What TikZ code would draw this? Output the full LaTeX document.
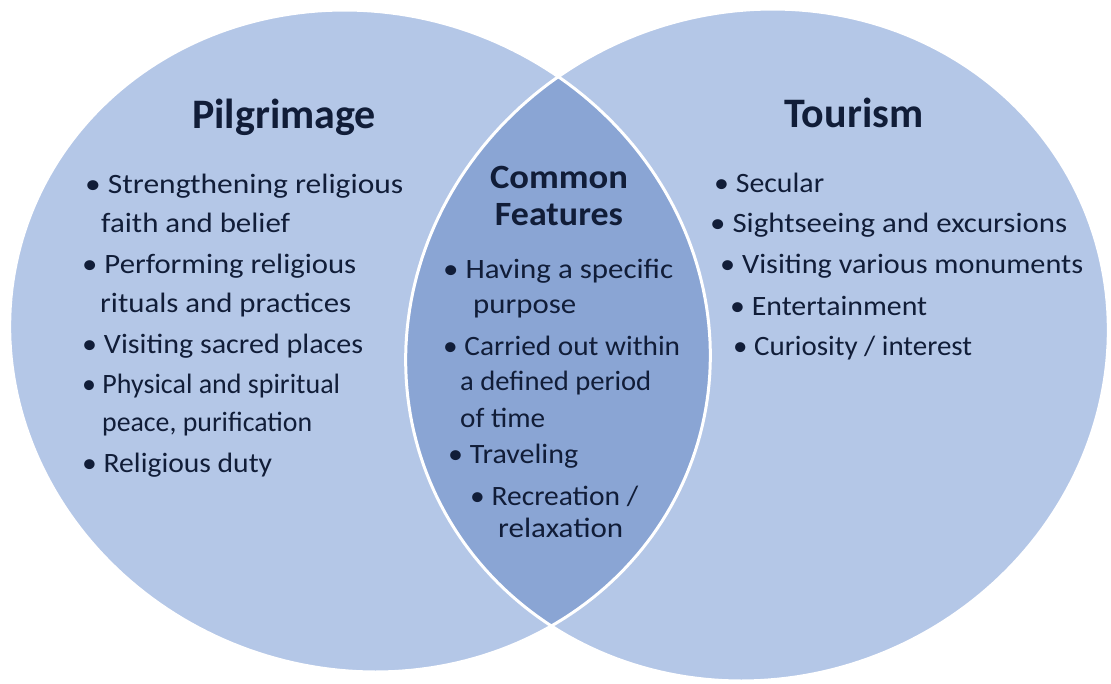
\documentclass[tikz,border=0pt]{standalone}
\usepackage{fontspec}
\usepackage{graphicx}
\setmainfont{Carlito}
\definecolor{outerblue}{HTML}{B4C7E7}
\definecolor{lensblue}{HTML}{8AA5D4}
\definecolor{ink}{HTML}{111D38}
\newcommand\bodyfnt{\fontsize{28}{34}\selectfont}
\newcommand\titlefnt{\fontsize{42}{50}\selectfont\bfseries}
\newcommand\midfnt{\fontsize{34}{40}\selectfont\bfseries}
\newcommand\fitw[2]{\resizebox{#1pt}{\height}{#2}}
\tikzset{
  txt/.style={anchor=base west, inner sep=0pt, font=\bodyfnt, text=ink},
  ttl/.style={anchor=base, inner sep=0pt, font=\titlefnt, text=ink},
  mid/.style={anchor=base, inner sep=0pt, font=\midfnt, text=ink},
}
\def\leftshape{plot[domain=0:360,samples=241] ({360+350*cos(\x)+0.0468*331*sin(\x)},{341+331*sin(\x)}) -- cycle}
\def\rightshape{plot[domain=0:360,samples=241] ({757+351*cos(\x)-0.0468*336*sin(\x)},{345+336*sin(\x)}) -- cycle}
\begin{document}
\begin{tikzpicture}[x=1pt,y=-1pt]
\useasboundingbox (0,0) rectangle (1111,683);
\fill[white] (0,0) rectangle (1111,683);
\fill[outerblue] \leftshape;
\fill[outerblue] \rightshape;
\begin{scope}
  \clip \leftshape;
  \fill[lensblue] \rightshape;
\end{scope}
\draw[white, line width=3pt] \leftshape;
\draw[white, line width=3pt] \rightshape;

% titles
\node[ttl] (pil) at (284,128) {Pilgrimage};
\node[ttl] (tou) at (854,127) {Tourism};
\node[mid] (com) at (559,188) {\fitw{138}{Common}};
\node[mid] (fea) at (559,225) {\fitw{128}{Features}};

% left list
\node[txt] (l1)  at (85,193)  {\fitw{318}{• Strengthening religious}};
\node[txt] (l1b) at (101,232) {\fitw{189}{faith and belief}};
\node[txt] (l2)  at (82,273)  {\fitw{274}{• Performing religious}};
\node[txt] (l2b) at (100,312) {\fitw{251}{rituals and practices}};
\node[txt] (l3)  at (82,353)  {\fitw{281}{• Visiting sacred places}};
\node[txt] (l4)  at (82,393)  {\fitw{258}{• Physical and spiritual}};
\node[txt] (l4b) at (102,431) {\fitw{210}{peace, purification}};
\node[txt] (l5)  at (82,472)  {\fitw{190}{• Religious duty}};

% middle list
\node[txt] (m1)  at (443,278) {\fitw{230}{• Having a specific}};
\node[txt] (m1b) at (473,313) {\fitw{103}{purpose}};
\node[txt] (m2)  at (443,355) {\fitw{237}{• Carried out within}};
\node[txt] (m2b) at (460,390) {\fitw{191}{a defined period}};
\node[txt] (m2c) at (460,427) {\fitw{85}{of time}};
\node[txt] (m3)  at (448,463) {\fitw{130}{• Traveling}};
\node[txt] (m4)  at (470,505) {\fitw{168}{• Recreation /}};
\node[txt] (m4b) at (498,537) {\fitw{125}{relaxation}};

% right list
\node[txt] (r1) at (714,192) {\fitw{110}{• Secular}};
\node[txt] (r2) at (710,232) {\fitw{357}{• Sightseeing and excursions}};
\node[txt] (r3) at (720,273) {\fitw{363}{• Visiting various monuments}};
\node[txt] (r4) at (730,315) {\fitw{197}{• Entertainment}};
\node[txt] (r5) at (733,355) {\fitw{239}{• Curiosity / interest}};
\end{tikzpicture}
\end{document}
